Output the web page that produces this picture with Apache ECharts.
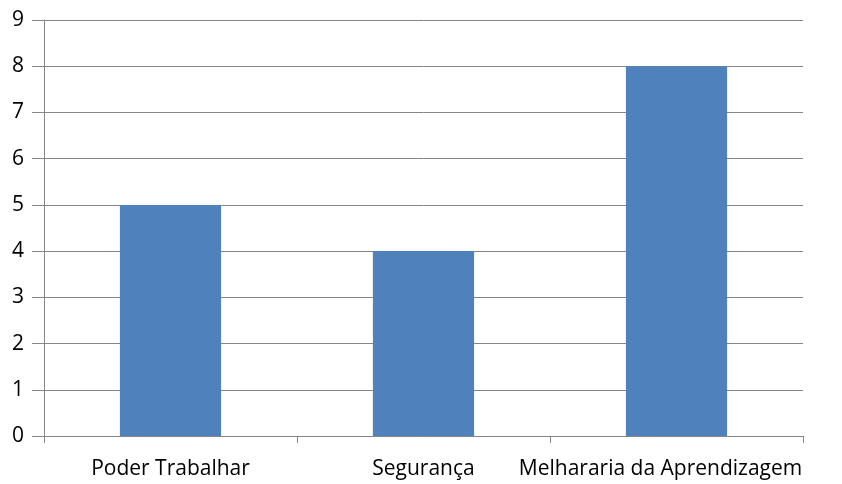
<!DOCTYPE html>
<html><head><meta charset="utf-8">
<script src="https://cdn.jsdelivr.net/npm/echarts@6/dist/echarts.min.js"></script>
<style>html,body{margin:0;padding:0;background:#fff}#c{width:842px;height:484px}</style>
</head><body><div id="c"></div>
<script>
const categories = ["Poder Trabalhar", "Segurança", "Melhararia da Aprendizagem"];
const values = [5, 4, 8];
const yTicks = [0, 1, 2, 3, 4, 5, 6, 7, 8, 9];

const chart = echarts.init(document.getElementById('c'));
const axisColor = '#868686';
chart.setOption({
  animation: false,
  grid: { left: 44, right: 39, top: 20, bottom: 48 },
  xAxis: {
    type: 'category',
    data: categories,
    axisLine: { lineStyle: { color: axisColor, width: 1 } },
    axisTick: { show: true, length: 7, lineStyle: { color: axisColor } },
    axisLabel: {
      color: '#000', fontFamily: 'Open Sans', fontSize: 21, margin: 23, interval: 0,
      formatter: function (v, i) { return i === 2 ? '{s|' + v + '}' : v; },
      rich: { s: { color: '#000', fontFamily: 'Open Sans', fontSize: 21, padding: [0, 32, 0, 0] } }
    }
  },
  yAxis: {
    type: 'value', min: yTicks[0], max: yTicks[yTicks.length - 1], interval: 1,
    axisLine: { show: true, lineStyle: { color: axisColor, width: 1 } },
    axisTick: { show: true, length: 12, lineStyle: { color: axisColor } },
    axisLabel: { color: '#000', fontFamily: 'Open Sans', fontSize: 21, margin: 20 },
    splitLine: { lineStyle: { color: axisColor, width: 1 } }
  },
  series: [{
    type: 'bar', data: values, barWidth: '40%',
    itemStyle: { color: '#4f81bd' }
  }]
});
</script></body></html>
